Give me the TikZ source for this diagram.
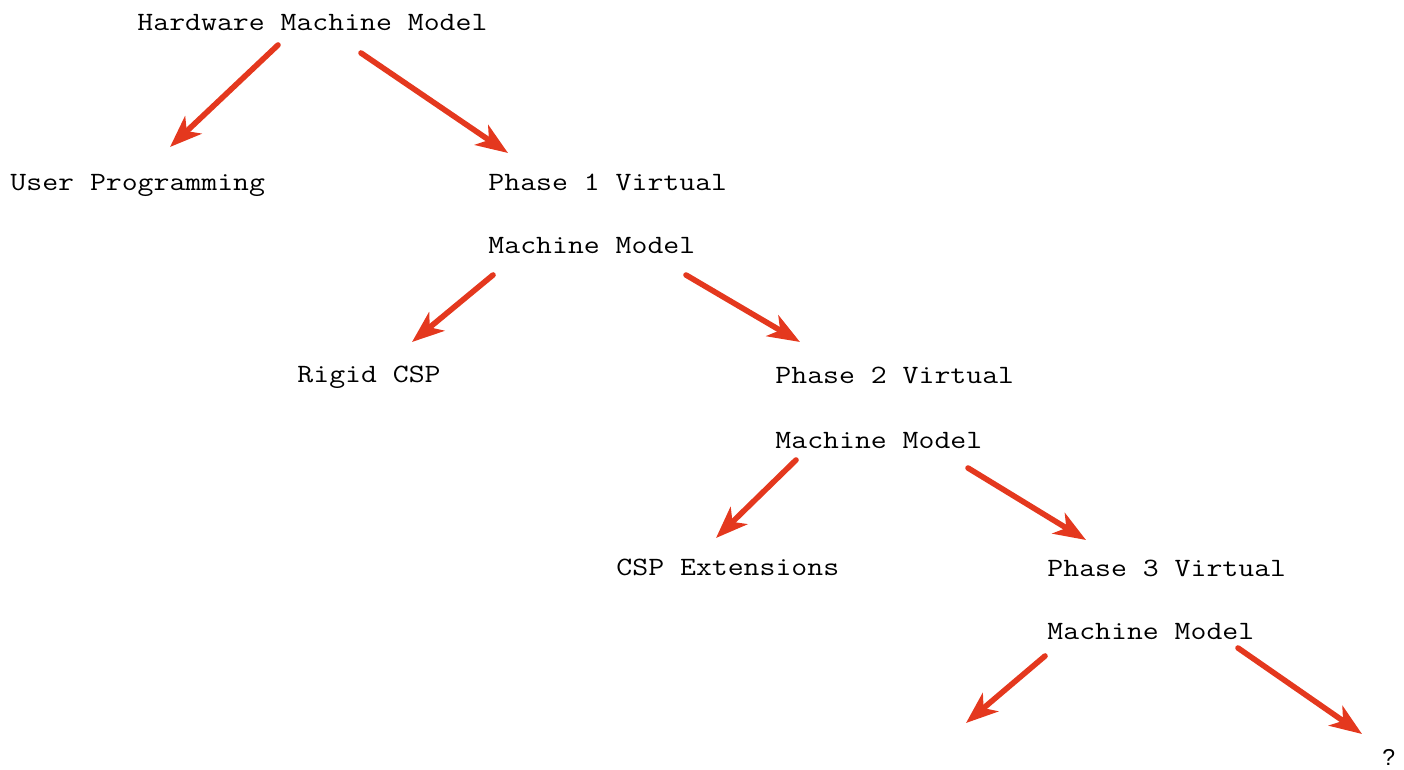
\documentclass[tikz,border=0pt]{standalone}
\usepackage{fontspec}
\newfontfamily\qfont{Liberation Sans}
\usetikzlibrary{arrows.meta}
\definecolor{arrowred}{RGB}{228,56,30}
\tikzset{
  label/.style={anchor=base west, inner sep=0pt, xscale=1.17,
    font=\ttfamily\fontsize{13.2}{15}\selectfont},
  tree arrow/.style={draw=arrowred, line width=2.8pt, line cap=round,
    -{Stealth[length=16pt, width=12pt, inset=4.5pt]}},
}
\begin{document}
\begin{tikzpicture}[x=0.5pt, y=-0.5pt]
  \useasboundingbox (0,0) rectangle (1404,770);

  % labels of the tree
  \node[label] (hw)  at (137,31)  {Hardware Machine Model};
  \node[label] (usr) at (10,191)  {User Programming};
  \node[label] (p1)  at (488,191) {Phase 1 Virtual};
  \node[label] (m1)  at (488,254) {Machine Model};
  \node[label] (csp) at (297,383) {Rigid CSP};
  \node[label] (p2)  at (775,384) {Phase 2 Virtual};
  \node[label] (m2)  at (775,448) {Machine Model};
  \node[label] (ext) at (616,575) {CSP Extensions};
  \node[label] (p3)  at (1047,576) {Phase 3 Virtual};
  \node[label] (m3)  at (1047,639) {Machine Model};
  \node[anchor=base west, inner sep=0pt, font=\qfont\fontsize{11.5}{13}\selectfont]
    (q) at (1382,765) {?};

  % arrow end points
  \coordinate (hw-l)  at (278,45);   \coordinate (usr-t) at (170,147);
  \coordinate (hw-r)  at (361,53);   \coordinate (p1-t)  at (508,153);
  \coordinate (m1-l)  at (493,275);  \coordinate (csp-t) at (412,342);
  \coordinate (m1-r)  at (686,275);  \coordinate (p2-t)  at (800,342);
  \coordinate (m2-l)  at (796,460);  \coordinate (ext-t) at (716,538);
  \coordinate (m2-r)  at (968,468);  \coordinate (p3-t)  at (1086,540);
  \coordinate (m3-l)  at (1045,656); \coordinate (open)  at (966,723);
  \coordinate (m3-r)  at (1238,648); \coordinate (q-t)   at (1362,734);

  % connectors
  \draw[tree arrow] (hw-l) -- (usr-t);
  \draw[tree arrow] (hw-r) -- (p1-t);
  \draw[tree arrow] (m1-l) -- (csp-t);
  \draw[tree arrow] (m1-r) -- (p2-t);
  \draw[tree arrow] (m2-l) -- (ext-t);
  \draw[tree arrow] (m2-r) -- (p3-t);
  \draw[tree arrow] (m3-l) -- (open);
  \draw[tree arrow] (m3-r) -- (q-t);
\end{tikzpicture}
\end{document}
